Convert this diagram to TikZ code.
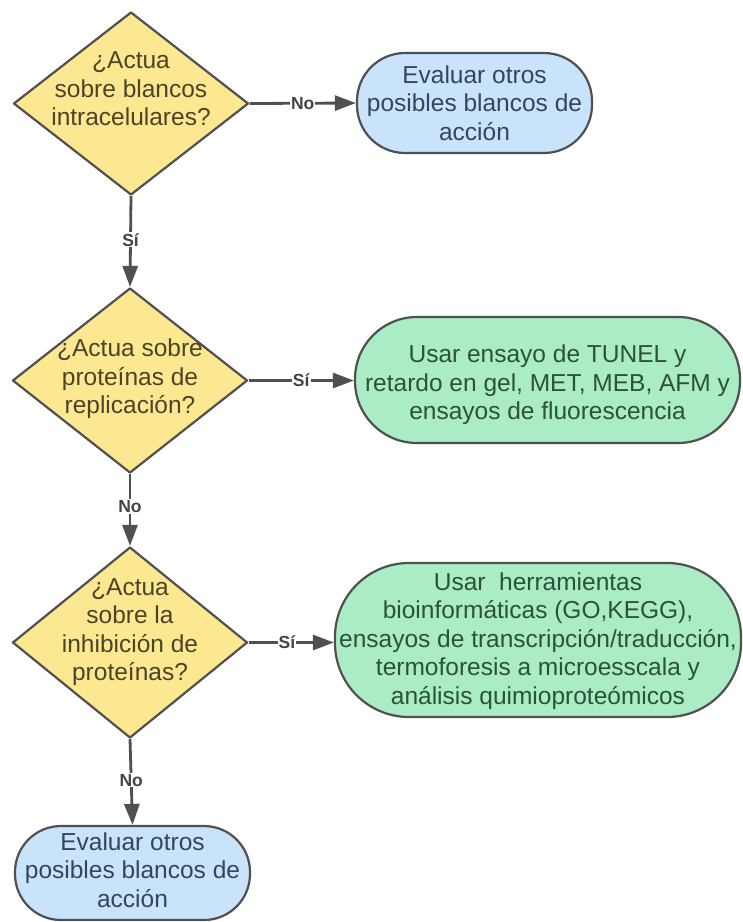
\documentclass[tikz,border=0pt]{standalone}
\usepackage{fontspec}
\setmainfont{Liberation Sans}
\usetikzlibrary{shapes.geometric,arrows.meta}
\definecolor{ylw}{HTML}{FCE890}
\definecolor{blu}{HTML}{C8E3FA}
\definecolor{grn}{HTML}{A9ECC6}
\definecolor{edge}{HTML}{505050}
\definecolor{ytxt}{HTML}{4A4428}
\definecolor{btxt}{HTML}{34465A}
\definecolor{gtxt}{HTML}{2C5238}
\tikzset{
  dia/.style={shape=diamond, draw=edge, fill=ylw, line width=2.2pt, inner sep=0pt, line join=round},
  term/.style={shape=rectangle, draw=edge, line width=2.2pt, inner sep=0pt},
  txt/.style={align=center, font=\fontsize{24.5}{28.5}\selectfont, inner sep=0pt},
  conn/.style={draw=edge, line width=2.8pt, -{Triangle[length=21pt,width=15pt]}},
  lbl/.style={font=\fontsize{17.5}{19}\selectfont\bfseries, text=edge!85!black, fill=white, inner sep=1pt}
}
\begin{document}
\begin{tikzpicture}[x=1pt,y=-1pt]
\useasboundingbox[fill=white] (0,0) rectangle (743,922);
% decisions
\node[dia, minimum width=235pt, minimum height=183pt] (d1) at (131,103.5) {};
\node[dia, minimum width=235pt, minimum height=185pt] (d2) at (130,380.5) {};
\node[dia, minimum width=235pt, minimum height=191pt] (d3) at (130,642.5) {};
\node[txt, text=ytxt] (t1) at (131,89) {¿Actua\\sobre blancos\\intracelulares?};
\node[txt, text=ytxt] (t2) at (130,379) {¿Actua sobre\\proteínas de\\replicación?};
\node[txt, text=ytxt] (t3) at (130,632) {¿Actua\\sobre la\\inhibición de\\proteínas?};
% terminals
\node[term, fill=blu, rounded corners=48pt, minimum width=235pt, minimum height=100pt] (b1) at (474.5,103) {};
\node[txt, text=btxt] (bt1) at (474.5,103) {Evaluar otros\\posibles blancos de\\acción};
\node[term, fill=grn, rounded corners=62pt, minimum width=385pt, minimum height=126pt] (g1) at (547.5,380) {};
\node[txt, text=gtxt] (gt1) at (547.5,385) {Usar ensayo de TUNEL y\\retardo en gel, MET, MEB, AFM y\\ensayos de fluorescencia};
\node[term, fill=grn, rounded corners=74pt, minimum width=406pt, minimum height=154pt] (g2) at (538,640) {};
\node[txt, text=gtxt] (gt2) at (538,641) {Usar\ \ herramientas\\bioinformáticas (GO,KEGG),\\ensayos de transcripción/traducción,\\termoforesis a microesscala y\\análisis quimioproteómicos};
\node[term, fill=blu, rounded corners=46pt, minimum width=235pt, minimum height=94pt] (b2) at (132.5,873) {};
\node[txt, text=btxt] (bt2) at (132.5,870) {Evaluar otros\\posibles blancos de\\acción};
% connectors
\draw[conn] (d1.east) -- node[lbl, pos=0.5] {No} (b1.west);
\draw[conn] (d1.south) -- node[lbl, pos=0.48] {Sí} (d2.north);
\draw[conn] (d2.east) -- node[lbl, pos=0.5] {Sí} (g1.west |- d2.east);
\draw[conn] (d2.south) -- node[lbl, pos=0.45] {No} (d3.north);
\draw[conn] (d3.east) -- node[lbl, pos=0.45] {Sí} (g2.west |- d3.east);
\draw[conn] (d3.south) -- node[lbl, pos=0.48] {No} (b2.north);
\end{tikzpicture}
\end{document}
